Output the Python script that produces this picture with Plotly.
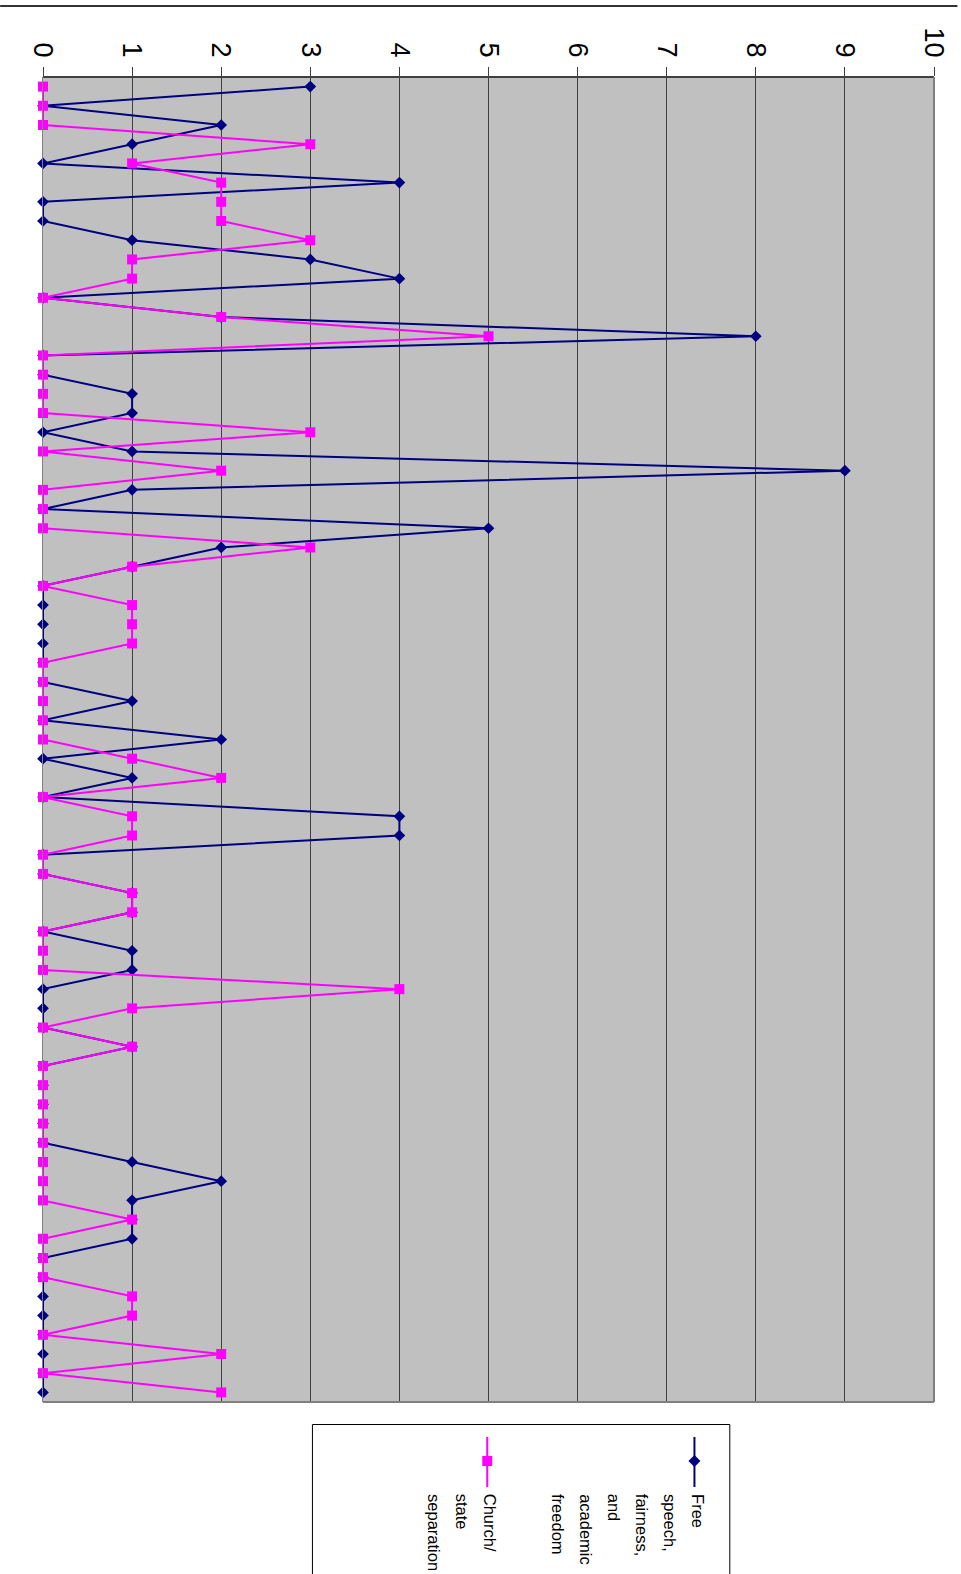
import plotly.graph_objects as go

# Responses per item, in order (first item at the top)
free_speech = [3, 0, 2, 1, 0, 4, 0, 0, 1, 3, 4, 0, 2, 8, 0, 0, 1, 1, 0, 1,
               9, 1, 0, 5, 2, 1, 0, 0, 0, 0, 0, 0, 1, 0, 2, 0, 1, 0, 4, 4,
               0, 0, 1, 1, 0, 1, 1, 0, 0, 0, 1, 0, 0, 0, 0, 0, 1, 2, 1, 1,
               1, 0, 0, 0, 0, 0, 0, 0, 0]
church_state = [0, 0, 0, 3, 1, 2, 2, 2, 3, 1, 1, 0, 2, 5, 0, 0, 0, 0, 3, 0,
                2, 0, 0, 0, 3, 1, 0, 1, 1, 1, 0, 0, 0, 0, 0, 1, 2, 0, 1, 1,
                0, 0, 1, 1, 0, 0, 0, 4, 1, 0, 1, 0, 0, 0, 0, 0, 0, 0, 0, 1,
                0, 0, 0, 1, 1, 0, 2, 0, 2]
categories = list(range(1, len(free_speech) + 1))
value_ticks = list(range(0, 11))

# legend labels, one list entry per wrapped line
series_lines = [["Free", "speech,", "fairness,", "and", "academic", "freedom"],
                ["Church/", "state", "separation"]]

NAVY = "#000080"
MAGENTA = "#FF00FF"

W, H = 961, 1574
L, R, T, B = 43, 937.5, 77, 1402


def px_x(x):
    return (x - L) / (R - L)


def px_y(y):
    return (B - y) / (B - T)


fig = go.Figure()
fig.add_trace(go.Scatter(
    x=free_speech, y=categories, mode="lines+markers",
    line=dict(color=NAVY, width=2),
    marker=dict(symbol="diamond", size=9, color=NAVY),
    showlegend=False, cliponaxis=False))
fig.add_trace(go.Scatter(
    x=church_state, y=categories, mode="lines+markers",
    line=dict(color=MAGENTA, width=2),
    marker=dict(symbol="square", size=10, color=MAGENTA),
    showlegend=False, cliponaxis=False))

shapes = []
# plot area frame
shapes.append(dict(type="line", xref="paper", yref="paper", x0=0, x1=1, y0=1, y1=1,
                   line=dict(color="#404040", width=2)))
shapes.append(dict(type="line", xref="paper", yref="paper", x0=1, x1=1, y0=0, y1=1,
                   line=dict(color="#808080", width=2)))
shapes.append(dict(type="line", xref="paper", yref="paper", x0=0, x1=1, y0=0, y1=0,
                   line=dict(color="#808080", width=2)))
# chart border line across the top
shapes.append(dict(type="line", xref="paper", yref="paper", x0=px_x(0), x1=px_x(W),
                   y0=px_y(6), y1=px_y(6), line=dict(color="#333333", width=2)))
# legend box
shapes.append(dict(type="rect", xref="paper", yref="paper", x0=px_x(313.5), x1=px_x(732.5),
                   y0=px_y(1600), y1=px_y(1424.5), line=dict(color="black", width=1),
                   fillcolor="white", layer="below"))

# legend keys (vertical line with centred marker)
for cx, col, sym in [(697, NAVY, "diamond"), (489, MAGENTA, "square")]:
    shapes.append(dict(type="line", xref="paper", yref="paper", x0=px_x(cx), x1=px_x(cx),
                       y0=px_y(1437), y1=px_y(1487), line=dict(color=col, width=2)))
    cy = 1461
    if sym == "diamond":
        path = "M {} {} L {} {} L {} {} L {} {} Z".format(
            px_x(cx), px_y(cy - 6), px_x(cx + 6), px_y(cy),
            px_x(cx), px_y(cy + 6), px_x(cx - 6), px_y(cy))
        shapes.append(dict(type="path", xref="paper", yref="paper", path=path,
                           fillcolor=col, line=dict(color=col, width=0)))
    else:
        shapes.append(dict(type="rect", xref="paper", yref="paper",
                           x0=px_x(cx - 5), x1=px_x(cx + 5), y0=px_y(cy + 5), y1=px_y(cy - 5),
                           fillcolor=col, line=dict(color=col, width=0)))

# legend labels, rotated, one annotation per line
annotations = []
for first_center, lines in [(700.5, series_lines[0]), (492, series_lines[1])]:
    for i, word in enumerate(lines):
        annotations.append(dict(
            text=word, textangle=90, showarrow=False,
            xref="paper", yref="paper", x=px_x(first_center - 28 * i), y=px_y(1493),
            xanchor="center", yanchor="top", borderpad=0,
            font=dict(family="Liberation Sans, Arial", size=16.5, color="black")))

fig.update_layout(
    width=W, height=H,
    margin=dict(l=L, r=W - R, t=T, b=H - B, pad=0),
    paper_bgcolor="white", plot_bgcolor="#C0C0C0",
    font=dict(family="Liberation Sans, Arial", color="black"),
    shapes=shapes, annotations=annotations,
    xaxis=dict(side="top", range=[0, 10], tickmode="array", tickvals=value_ticks,
               ticktext=[str(v) for v in value_ticks], tickangle=90,
               ticks="outside", ticklen=9, tickcolor="#404040", tickwidth=1,
               tickfont=dict(size=27, family="Liberation Sans, Arial", color="black"),
               showgrid=True, gridcolor="#404040", gridwidth=1,
               zeroline=False, showline=False, fixedrange=True),
    yaxis=dict(range=[len(categories) + 0.5, 0.5], showticklabels=False, ticks="",
               showgrid=False, zeroline=False, showline=True, linecolor="#808080",
               linewidth=1, fixedrange=True),
)

fig.write_html("out.html")
